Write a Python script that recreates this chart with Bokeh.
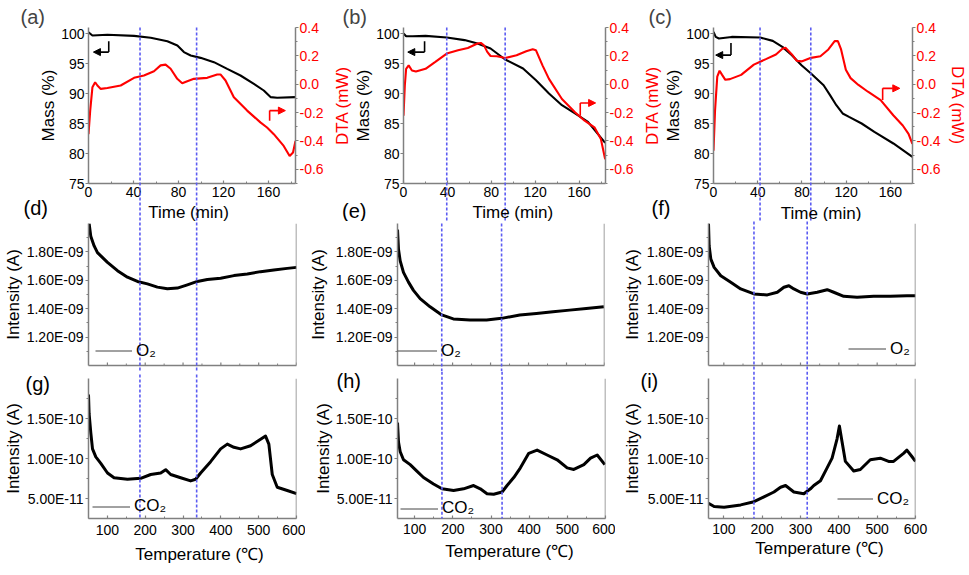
import numpy as np
from bokeh.plotting import figure
from bokeh.models import (Range1d, LinearAxis, FixedTicker, CustomJSTickFormatter,
                          NumeralTickFormatter, Arrow, NormalHead, Legend,
                          LegendItem, Span)
from bokeh.core.properties import value
from bokeh.layouts import row, column
from bokeh.embed import file_html
from bokeh.resources import INLINE

FONT = "Liberation Sans"
GRAY = "#808080"
BLUE = "#5c5cf2"
RED = "#ff0000"

# ---------------- data ----------------
time_ticks = [0, 40, 80, 120, 160]
time_minor = [20, 60, 100, 140, 180]
mass_ticks = [75, 80, 85, 90, 95, 100]
dta_ticks = [-0.6, -0.4, -0.2, 0.0, 0.2, 0.4]
dta_minor = [-0.7, -0.5, -0.3, -0.1, 0.1, 0.3]
temp_ticks = [100, 200, 300, 400, 500, 600]
temp_minor = [50, 150, 250, 350, 450, 550]
o2_ticks = [1.2e-9, 1.4e-9, 1.6e-9, 1.8e-9]
o2_minor = [1.1e-9, 1.3e-9, 1.5e-9, 1.7e-9, 1.9e-9]
co2_ticks = [5e-11, 1e-10, 1.5e-10]
co2_minor = [7.5e-11, 1.25e-10, 1.75e-10]

# (a)
a_mass_t = [0, 3.5, 16.8, 40.5, 55.3, 70.1, 79.0, 84.8, 90.8, 99.6, 111.5, 123.3, 135.1, 147.0, 155.8, 161.8, 167.7, 184.0]
a_mass = [100.2, 99.67, 99.78, 99.6, 99.28, 98.72, 98.0, 96.9, 96.33, 95.94, 95.22, 94.1, 93.0, 91.6, 90.5, 89.4, 89.28, 89.4]
a_dta_t = [0, 1.5, 3.5, 5.9, 7.9, 10.9, 16.8, 28.6, 40.5, 49.3, 58.2, 64.1, 68.5, 73.0, 78.9, 83.3, 87.8, 93.7, 105.5, 114.4, 117.3, 121.8, 129.2, 141.0, 152.8, 158.7, 164.7, 173.5, 178.8, 181.8, 184.0]
a_dta = [-0.352, -0.186, -0.021, 0.014, -0.009, -0.033, -0.026, -0.009, 0.045, 0.062, 0.092, 0.133, 0.138, 0.109, 0.038, 0.007, 0.021, 0.038, 0.045, 0.069, 0.069, 0.026, -0.092, -0.186, -0.269, -0.305, -0.352, -0.435, -0.506, -0.482, -0.40]
# (b)
b_mass_t = [0, 2.4, 8.3, 20.1, 39.4, 55.6, 67.4, 79.3, 92.6, 108.9, 120.7, 132.5, 144.3, 156.2, 168.0, 183.7]
b_mass = [100.0, 99.55, 99.55, 99.6, 99.33, 98.9, 98.33, 97.5, 95.67, 94.17, 92.2, 90.0, 88.05, 86.67, 85.28, 81.77]
b_dta_t = [0, 1.2, 2.4, 4.7, 7.7, 11.3, 20.1, 29.0, 39.4, 49.7, 58.6, 67.4, 70.4, 73.3, 76.3, 79.3, 85.2, 92.6, 103.0, 111.8, 117.7, 120.7, 126.6, 132.5, 144.3, 156.2, 165.0, 173.9, 179.8, 183.7]
b_dta = [-0.222, -0.009, 0.109, 0.133, 0.097, 0.09, 0.109, 0.157, 0.216, 0.239, 0.256, 0.287, 0.291, 0.274, 0.228, 0.199, 0.197, 0.185, 0.204, 0.232, 0.246, 0.239, 0.133, 0.038, -0.104, -0.198, -0.257, -0.304, -0.387, -0.529]
# (c)
c_mass_t = [0, 2.0, 4.9, 16.4, 42.2, 53.6, 62.3, 70.9, 79.6, 88.2, 99.6, 105.4, 111.1, 116.8, 122.6, 134.0, 145.5, 162.7, 179.9]
c_mass = [100.27, 99.43, 99.17, 99.43, 99.33, 98.77, 97.77, 96.38, 94.72, 93.33, 91.38, 89.72, 88.05, 86.67, 86.1, 85.0, 83.6, 81.67, 79.43]
c_dta_t = [0, 1.4, 3.4, 5.5, 7.8, 10.7, 14.9, 25.0, 36.5, 47.9, 56.5, 62.3, 65.1, 70.9, 75.2, 79.6, 88.2, 96.7, 103.9, 109.6, 112.5, 115.4, 119.7, 124.0, 131.1, 139.7, 151.2, 162.6, 171.2, 176.4, 179.9]
c_dta = [-0.469, -0.184, 0.054, 0.095, 0.066, 0.031, 0.036, 0.066, 0.138, 0.179, 0.21, 0.25, 0.257, 0.21, 0.166, 0.161, 0.186, 0.197, 0.245, 0.304, 0.304, 0.245, 0.102, 0.043, -0.005, -0.053, -0.112, -0.219, -0.291, -0.35, -0.421]
# (d) O2
d_temp = [51.6, 56, 64.9, 73.7, 82.5, 100.2, 126.6, 153, 179.4, 205.8, 232.2, 258.6, 285, 311.4, 337.8, 364.2, 399.4, 434.5, 469.9, 505, 540.1, 575.5, 600]
d_o2 = [2.0e-9, 1.911e-9, 1.842e-9, 1.795e-9, 1.772e-9, 1.726e-9, 1.668e-9, 1.622e-9, 1.592e-9, 1.575e-9, 1.552e-9, 1.54e-9, 1.545e-9, 1.568e-9, 1.592e-9, 1.606e-9, 1.615e-9, 1.633e-9, 1.644e-9, 1.661e-9, 1.672e-9, 1.684e-9, 1.691e-9]
# (e) O2
e_temp = [55, 57.6, 62.1, 70.7, 83.9, 97, 114.6, 140.8, 171.5, 201.9, 245.8, 289.6, 329, 377, 420.8, 464.4, 508.2, 552, 598.2]
e_o2 = [1.957e-9, 1.818e-9, 1.737e-9, 1.656e-9, 1.587e-9, 1.529e-9, 1.471e-9, 1.413e-9, 1.356e-9, 1.328e-9, 1.321e-9, 1.321e-9, 1.332e-9, 1.356e-9, 1.367e-9, 1.378e-9, 1.39e-9, 1.401e-9, 1.413e-9]
# (f) O2
f_temp = [60, 61.7, 66.1, 74.7, 92, 118, 144, 178.7, 213.4, 239.5, 256.7, 269.7, 282.7, 300.1, 317.5, 343.5, 369.6, 386.7, 412.8, 447.6, 490.8, 534.3, 577.7, 600]
f_o2 = [2.0e-9, 1.842e-9, 1.749e-9, 1.691e-9, 1.632e-9, 1.586e-9, 1.539e-9, 1.504e-9, 1.497e-9, 1.516e-9, 1.551e-9, 1.562e-9, 1.539e-9, 1.516e-9, 1.504e-9, 1.516e-9, 1.534e-9, 1.516e-9, 1.487e-9, 1.48e-9, 1.487e-9, 1.487e-9, 1.492e-9, 1.492e-9]
# (g) CO2
g_temp = [50, 51.6, 56.1, 60.6, 69.3, 82.5, 100.2, 117.6, 153, 188.1, 214.5, 240.9, 254.1, 267.3, 293.7, 320.1, 333.3, 346.5, 372.9, 399.4, 417, 434.5, 452.2, 478.6, 505, 518.2, 526.9, 535.9, 549.1, 575.5, 600]
g_co2 = [1.80e-10, 1.56e-10, 1.32e-10, 1.12e-10, 1.02e-10, 0.94e-10, 0.819e-10, 0.759e-10, 0.74e-10, 0.752e-10, 0.80e-10, 0.819e-10, 0.86e-10, 0.80e-10, 0.759e-10, 0.72e-10, 0.74e-10, 0.819e-10, 0.96e-10, 1.12e-10, 1.18e-10, 1.14e-10, 1.12e-10, 1.16e-10, 1.24e-10, 1.28e-10, 1.18e-10, 0.80e-10, 0.64e-10, 0.60e-10, 0.56e-10]
# (h) CO2
h_temp = [55, 57.6, 62.1, 70.7, 88.2, 105.7, 123.2, 149.4, 171.5, 201.9, 228.2, 254.4, 271.9, 289.6, 307, 329, 342.1, 359.6, 377, 398.9, 420.8, 447, 473.3, 499.5, 517, 543.3, 560.8, 578.3, 598.2]
h_co2 = [1.448e-10, 1.206e-10, 1.085e-10, 0.984e-10, 0.923e-10, 0.843e-10, 0.762e-10, 0.681e-10, 0.621e-10, 0.60e-10, 0.621e-10, 0.662e-10, 0.621e-10, 0.56e-10, 0.553e-10, 0.581e-10, 0.662e-10, 0.762e-10, 0.883e-10, 1.065e-10, 1.105e-10, 1.044e-10, 0.984e-10, 0.883e-10, 0.863e-10, 0.923e-10, 1.004e-10, 1.044e-10, 0.923e-10]
# (i) CO2
i_temp = [60, 74.7, 100.7, 144, 178.7, 204.7, 230.7, 248, 261, 282.7, 308.7, 326, 334.7, 352.1, 369.4, 382.4, 395.4, 401.5, 408.5, 417.1, 438.8, 456.1, 482.1, 508.2, 529.8, 542.8, 568.8, 577.5, 590.5, 600]
i_co2 = [0.44e-10, 0.40e-10, 0.391e-10, 0.42e-10, 0.46e-10, 0.521e-10, 0.581e-10, 0.641e-10, 0.662e-10, 0.581e-10, 0.56e-10, 0.621e-10, 0.662e-10, 0.722e-10, 0.883e-10, 1.004e-10, 1.246e-10, 1.407e-10, 1.206e-10, 0.964e-10, 0.843e-10, 0.863e-10, 0.984e-10, 1.004e-10, 0.964e-10, 0.964e-10, 1.065e-10, 1.105e-10, 1.025e-10, 0.964e-10]

# dashed reference lines (same instants in time and in temperature)
col1_dash_time = [45.8, 96.1]
col1_dash_temp = [186, 336]
col2_dash_time = [39.4, 92.6]
col2_dash_temp = [171.5, 329]
col3_dash_time = [42.1, 88.0]
col3_dash_temp = [178.6, 317.5]

SCI = CustomJSTickFormatter(code="""
const s = tick.toExponential(2).toUpperCase();
const parts = s.split("E");
let e = parts[1];
let sign = "+";
if (e[0] === "-") { sign = "-"; e = e.slice(1); } else if (e[0] === "+") { e = e.slice(1); }
if (e.length < 2) { e = "0" + e; }
return parts[0] + "E" + sign + e;
""")


def base_fig(ox, oy, w, h, l, r, t, b, xr, yr):
    p = figure(width=w, height=h, x_range=Range1d(*xr), y_range=Range1d(*yr),
               toolbar_location=None, output_backend="svg",
               min_border_left=l, min_border_right=r,
               min_border_top=t, min_border_bottom=b)
    p.outline_line_color = None
    p.xgrid.visible = False
    p.ygrid.visible = False
    p._geom = (ox, oy, w, h, l, r, t, b)
    return p


def to_data(p, px, py):
    ox, oy, w, h, l, r, t, b = p._geom
    fw = w - l - r
    fh = h - t - b
    xr_ = p.x_range
    yr_ = p.y_range
    x = xr_.start + (px - ox - l) / fw * (xr_.end - xr_.start)
    y = yr_.end - (py - oy - t) / fh * (yr_.end - yr_.start)
    return x, y


def style(ax, label_color="black"):
    ax.axis_line_color = GRAY
    ax.axis_line_width = 1.5
    ax.major_tick_line_color = GRAY
    ax.minor_tick_line_color = GRAY
    ax.major_tick_line_width = 1.2
    ax.minor_tick_line_width = 1
    ax.major_label_text_font = FONT
    ax.major_label_text_font_size = "14px"
    ax.major_label_text_color = label_color
    ax.axis_label_text_font = FONT
    ax.axis_label_text_font_size = "17px"
    ax.axis_label_text_font_style = "normal"
    ax.axis_label_text_color = "black"


def ticks_in(ax):
    ax.major_tick_in = 3
    ax.major_tick_out = 0
    ax.minor_tick_in = 2
    ax.minor_tick_out = 0


def ticks_out(ax):
    ax.major_tick_in = 0
    ax.major_tick_out = 3
    ax.minor_tick_in = 0
    ax.minor_tick_out = 2


def ptext(p, s, px, py, size="20px", color="black", align="left"):
    x, y = to_data(p, px, py)
    p.text(x=[x], y=[y], text=[s], text_font=value(FONT), text_font_size=value(size),
           text_color=color, text_align=align, text_baseline="middle", level="overlay")


def vdash(p, xs, top_py, bottom_py):
    _, yt = to_data(p, 0, top_py)
    _, yb = to_data(p, 0, bottom_py)
    n = len(xs)
    p.segment(x0=xs, y0=[yt] * n, x1=xs, y1=[yb] * n, line_color=BLUE,
              line_width=1.6, line_dash="3 2", level="overlay")


def l_arrow(p, x0, y_from, y_to, x1, color, rng="default"):
    p.add_layout(Arrow(end=None, x_start=x0, y_start=y_from, x_end=x0, y_end=y_to,
                       line_color=color, line_width=1.6, y_range_name=rng))
    p.add_layout(Arrow(end=NormalHead(size=7, fill_color=color, line_color=color),
                       x_start=x0, y_start=y_to, x_end=x1, y_end=y_to,
                       line_color=color, line_width=1.6, y_range_name=rng))


def add_legend(p, label, loc, gw, xs, ys):
    sample = p.line(xs[:1], ys[:1], line_color="#444444", line_width=1)
    lg = Legend(items=[LegendItem(label=label, renderers=[sample])], location=loc,
                border_line_color=None, background_fill_alpha=0, padding=0, margin=0,
                glyph_width=gw, glyph_height=17, label_height=17, label_standoff=4,
                label_text_font=FONT, label_text_font_size="17px",
                label_text_color="black", spacing=0)
    p.add_layout(lg)


def dta_side_label(p, standoff):
    ax = LinearAxis(y_range_name="dta", ticker=FixedTicker(ticks=[], minor_ticks=[]))
    style(ax)
    ax.axis_line_color = None
    ax.major_tick_out = 0
    ax.minor_tick_out = 0
    ax.major_label_standoff = 0
    ax.axis_label = "DTA (mW)"
    ax.axis_label_text_color = RED
    ax.axis_label_standoff = standoff
    p.add_layout(ax, "left")


def top_panel(ox, w, l, r, xmax, tm, m, td, d, tag, tag_offset):
    p = base_fig(ox, 0, w, 221, l, r, 27, 38, (0, xmax), (75, 101))
    p.extra_y_ranges = {"dta": Range1d(-0.7, 0.4)}
    p.title.text = tag
    p.title.align = "left"
    p.title.offset = tag_offset
    p.title.standoff = 0
    p.title.text_font = FONT
    p.title.text_font_size = "20px"
    p.title.text_font_style = "normal"
    xa = p.xaxis[0]
    style(xa)
    ticks_in(xa)
    xa.ticker = FixedTicker(ticks=time_ticks, minor_ticks=time_minor)
    xa.major_label_standoff = 3
    ya = p.yaxis[0]
    style(ya)
    ticks_out(ya)
    ya.ticker = FixedTicker(ticks=mass_ticks, minor_ticks=[])
    ya.axis_label = "Mass (%)"
    ya.major_label_standoff = 1
    ya.axis_label_standoff = 0
    ra = LinearAxis(y_range_name="dta",
                    ticker=FixedTicker(ticks=dta_ticks, minor_ticks=dta_minor),
                    formatter=NumeralTickFormatter(format="0.0"))
    style(ra, RED)
    ticks_out(ra)
    ra.major_label_standoff = 1
    p.add_layout(ra, "right")
    p.line(tm, m, line_color="black", line_width=2.1)
    p.line(td, d, y_range_name="dta", line_color=RED, line_width=2.1)
    return p


def ms_panel(ox, oy, w, h, l, r, t, b, xr, yr, xs, ys, ticks, minor, bottom_row, ylab_standoff):
    p = base_fig(ox, oy, w, h, l, r, t, b, xr, yr)
    xa = p.xaxis[0]
    style(xa)
    ya = p.yaxis[0]
    style(ya)
    ticks_out(ya)
    ya.ticker = FixedTicker(ticks=ticks, minor_ticks=minor)
    ya.formatter = SCI
    ya.axis_label = "Intensity (A)"
    ya.major_label_standoff = 2
    ya.axis_label_standoff = ylab_standoff
    if bottom_row:
        ticks_in(xa)
        xa.ticker = FixedTicker(ticks=temp_ticks, minor_ticks=temp_minor)
    else:
        # axis line only; inner tick marks drawn from the tick lists
        xa.ticker = FixedTicker(ticks=[], minor_ticks=[])
        xa.major_tick_out = 0
        xa.major_label_standoff = 0
        fh = h - t - b
        k = (yr[1] - yr[0]) / fh
        mj = [v for v in temp_ticks if xr[0] <= v <= xr[1]]
        mn = [v for v in temp_minor if xr[0] <= v <= xr[1]]
        p.segment(x0=mj, y0=[yr[0]] * len(mj), x1=mj, y1=[yr[0] + 3 * k] * len(mj),
                  line_color=GRAY, line_width=1.2)
        p.segment(x0=mn, y0=[yr[0]] * len(mn), x1=mn, y1=[yr[0] + 2 * k] * len(mn),
                  line_color=GRAY, line_width=1)
    p.add_layout(Span(location=xr[1], dimension="height", line_color=GRAY, line_width=1.5))
    p.line(xs, ys, line_color="black", line_width=3, line_join="round")
    return p


# ---------------- row 1 ----------------
fa = top_panel(0, 329, 88, 34, 184, a_mass_t, a_mass, a_dta_t, a_dta, "(a)", -68)
fb = top_panel(329, 310, 69, 34, 184, b_mass_t, b_mass, b_dta_t, b_dta, "(b)", -61)
fc = top_panel(639, 330, 66, 55, 180, c_mass_t, c_mass, c_dta_t, c_dta, "(c)", -65)
dta_side_label(fb, 0)
dta_side_label(fc, 0)
fc.right[0].axis_label = "DTA (mW)"
fc.right[0].axis_label_text_color = RED
fc.right[0].axis_label_standoff = 4

vdash(fa, col1_dash_time, 27, 221)
vdash(fb, col2_dash_time, 27, 221)
vdash(fc, col3_dash_time, 27, 221)

l_arrow(fa, 18, 98.7, 96.9, 4.4, "black")
l_arrow(fa, 161, -0.257, -0.186, 175, RED, rng="dta")
l_arrow(fb, 19.2, 98.7, 96.9, 3.9, "black")
l_arrow(fb, 161, -0.222, -0.132, 175, RED, rng="dta")
l_arrow(fc, 15.8, 98.4, 96.4, 2.0, "black")
l_arrow(fc, 153, -0.112, -0.029, 168.5, RED, rng="dta")

ptext(fa, "Time (min)", 188, 212, size="17px", align="center")
ptext(fb, "Time (min)", 510, 212, size="17px", align="center")
ptext(fc, "Time (min)", 818, 212.5, size="17px", align="center")
ptext(fa, "(d)", 23, 207)
ptext(fb, "(e)", 335, 210)
ptext(fc, "(f)", 640, 207.5)

# ---------------- row 2 ----------------
fd = ms_panel(0, 221, 305, 150, 88, 9, 1, 6, (50, 600), (1.0e-9, 2.0e-9), d_temp, d_o2, o2_ticks, o2_minor, False, 1)
fe = ms_panel(305, 221, 310, 150, 92, 11, 0, 6, (55, 600), (1.0e-9, 2.0e-9), e_temp, e_o2, o2_ticks, o2_minor, False, 5)
ff = ms_panel(615, 221, 354, 150, 93, 54, 2, 4, (60, 600), (1.0e-9, 2.0e-9), f_temp, f_o2, o2_ticks, o2_minor, False, 2)
vdash(fd, col1_dash_temp, 221, 371)
vdash(fe, col2_dash_temp, 221, 371)
vdash(ff, col3_dash_temp, 221, 371)
add_legend(fd, "O\u2082", (7, 4.5), 37, d_temp, d_o2)
add_legend(fe, "O\u2082", (0, 4.5), 40, e_temp, e_o2)
add_legend(ff, "O\u2082", (140, 6.5), 38, f_temp, f_o2)

# ---------------- row 3 ----------------
fg = ms_panel(0, 371, 305, 204, 88, 9, 4, 57, (50, 600), (0.25e-10, 2.0e-10), g_temp, g_co2, co2_ticks, co2_minor, True, 1)
fh = ms_panel(305, 371, 310, 204, 92, 10, 7, 52, (55, 600), (0.25e-10, 2.0e-10), h_temp, h_co2, co2_ticks, co2_minor, True, 0)
fi = ms_panel(615, 371, 354, 204, 93, 54, 7, 52, (60, 600), (0.25e-10, 2.0e-10), i_temp, i_co2, co2_ticks, co2_minor, True, 2)
fg.xaxis[0].major_label_standoff = 6
fh.xaxis[0].major_label_standoff = 5
fi.xaxis[0].major_label_standoff = 5
vdash(fg, col1_dash_temp, 371, 518)
vdash(fh, col2_dash_temp, 371, 523)
vdash(fi, col3_dash_temp, 371, 523)
add_legend(fg, "CO\u2082", (4, 2), 38, g_temp, g_co2)
add_legend(fh, "CO\u2082", (3, 0), 38, h_temp, h_co2)
add_legend(fi, "CO\u2082", (129, 9.5), 36, i_temp, i_co2)
ptext(fg, "Temperature (\u2103)", 199, 555, size="17px", align="center")
ptext(fh, "Temperature (\u2103)", 509, 557, size="17px", align="center")
ptext(fi, "Temperature (\u2103)", 819, 554, size="17px", align="center")
ptext(fg, "(g)", 25, 381)
ptext(fh, "(h)", 336, 381)
ptext(fi, "(i)", 640, 381)

layout = column(row(fa, fb, fc), row(fd, fe, ff), row(fg, fh, fi))
open("out.html", "w").write(file_html(layout, INLINE))
